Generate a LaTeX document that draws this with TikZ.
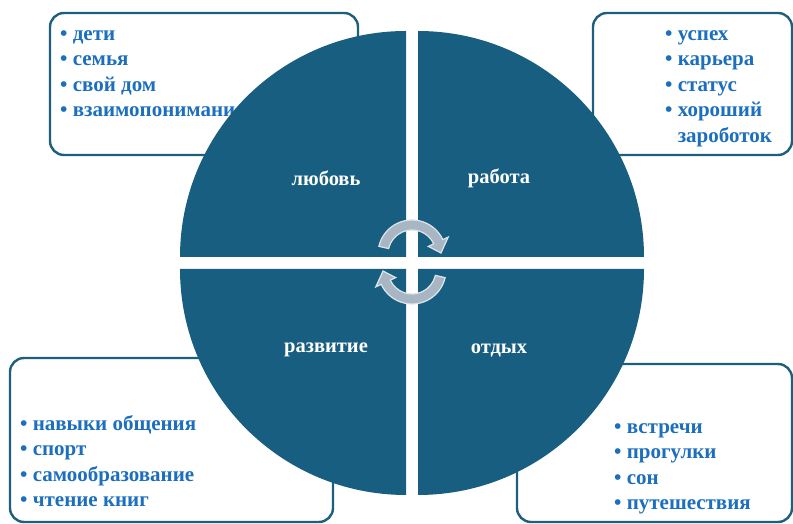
\documentclass[tikz,border=0pt]{standalone}
\usepackage{fontspec}
\setmainfont{Liberation Serif}
\definecolor{pie}{RGB}{23,94,128}
\definecolor{boxline}{RGB}{30,95,125}
\definecolor{itemblue}{RGB}{28,110,190}
\definecolor{arrowfill}{RGB}{168,182,196}
\definecolor{arrowedge}{RGB}{222,228,234}
\begin{document}
\begin{tikzpicture}[x=1pt,y=1pt,
  listbox/.style={draw=boxline,line width=2.4pt,rounded corners=14pt,fill=white},
  listtext/.style={anchor=north west,inner sep=0pt,align=left,text=itemblue,
    font=\bfseries\fontsize{21}{25.5}\selectfont},
  quadlabel/.style={text=white,font=\bfseries\fontsize{20.5}{24}\selectfont,inner sep=0pt},
  quadfill/.style={fill=pie},
  cyclearrow/.style={fill=arrowfill,draw=arrowedge,line width=1.2pt,line join=miter}]
\useasboundingbox (0,0) rectangle (793,524);
% list boxes
\draw[listbox] (50,369) rectangle (358,511);
\draw[listbox] (593,369) rectangle (792,511);
\draw[listbox] (10,2) rectangle (333,166);
\draw[listbox] (517,2) rectangle (792,160);
% list texts
\node[listtext] (love) at (60,502) {\strut• дети\\• семья\\• свой дом\\• взаимопонимание};
\node[listtext] (work) at (665,502) {\strut• успех\\• карьера\\• статус\\• хороший\\\hphantom{• }зароботок};
\node[listtext] (grow) at (20,112) {\strut• навыки общения\\• спорт\\• самообразование\\• чтение книг};
\node[listtext] (rest) at (614,109) {\strut• встречи\\• прогулки\\• сон\\• путешествия};
% quadrants
\fill[quadfill] (406,267) -- ++(180:226) arc (180:90:226) -- cycle;
\fill[quadfill] (418,267) -- ++(90:226) arc (90:0:226) -- cycle;
\fill[quadfill] (406,255) -- ++(270:226) arc (270:180:226) -- cycle;
\fill[quadfill] (418,255) -- ++(0:226) arc (0:-90:226) -- cycle;
% labels
\node[quadlabel] (qlove) at (326,346) {любовь};
\node[quadlabel] (qwork) at (499,346) {работа};
\node[quadlabel] (qgrow) at (326,174) {развитие};
\node[quadlabel] (qrest) at (499,174) {отдых};
% cycle arrows
\begin{scope}[shift={(412,270)}]
\draw[cyclearrow] (167:34) arc (167:25:34) -- (25:40) -- (2:29) -- (25:18) -- (25:24) arc (25:167:24) -- cycle;
\end{scope}
\begin{scope}[shift={(412,254)},rotate=180]
\draw[cyclearrow] (167:34) arc (167:25:34) -- (25:40) -- (2:29) -- (25:18) -- (25:24) arc (25:167:24) -- cycle;
\end{scope}
\end{tikzpicture}
\end{document}
